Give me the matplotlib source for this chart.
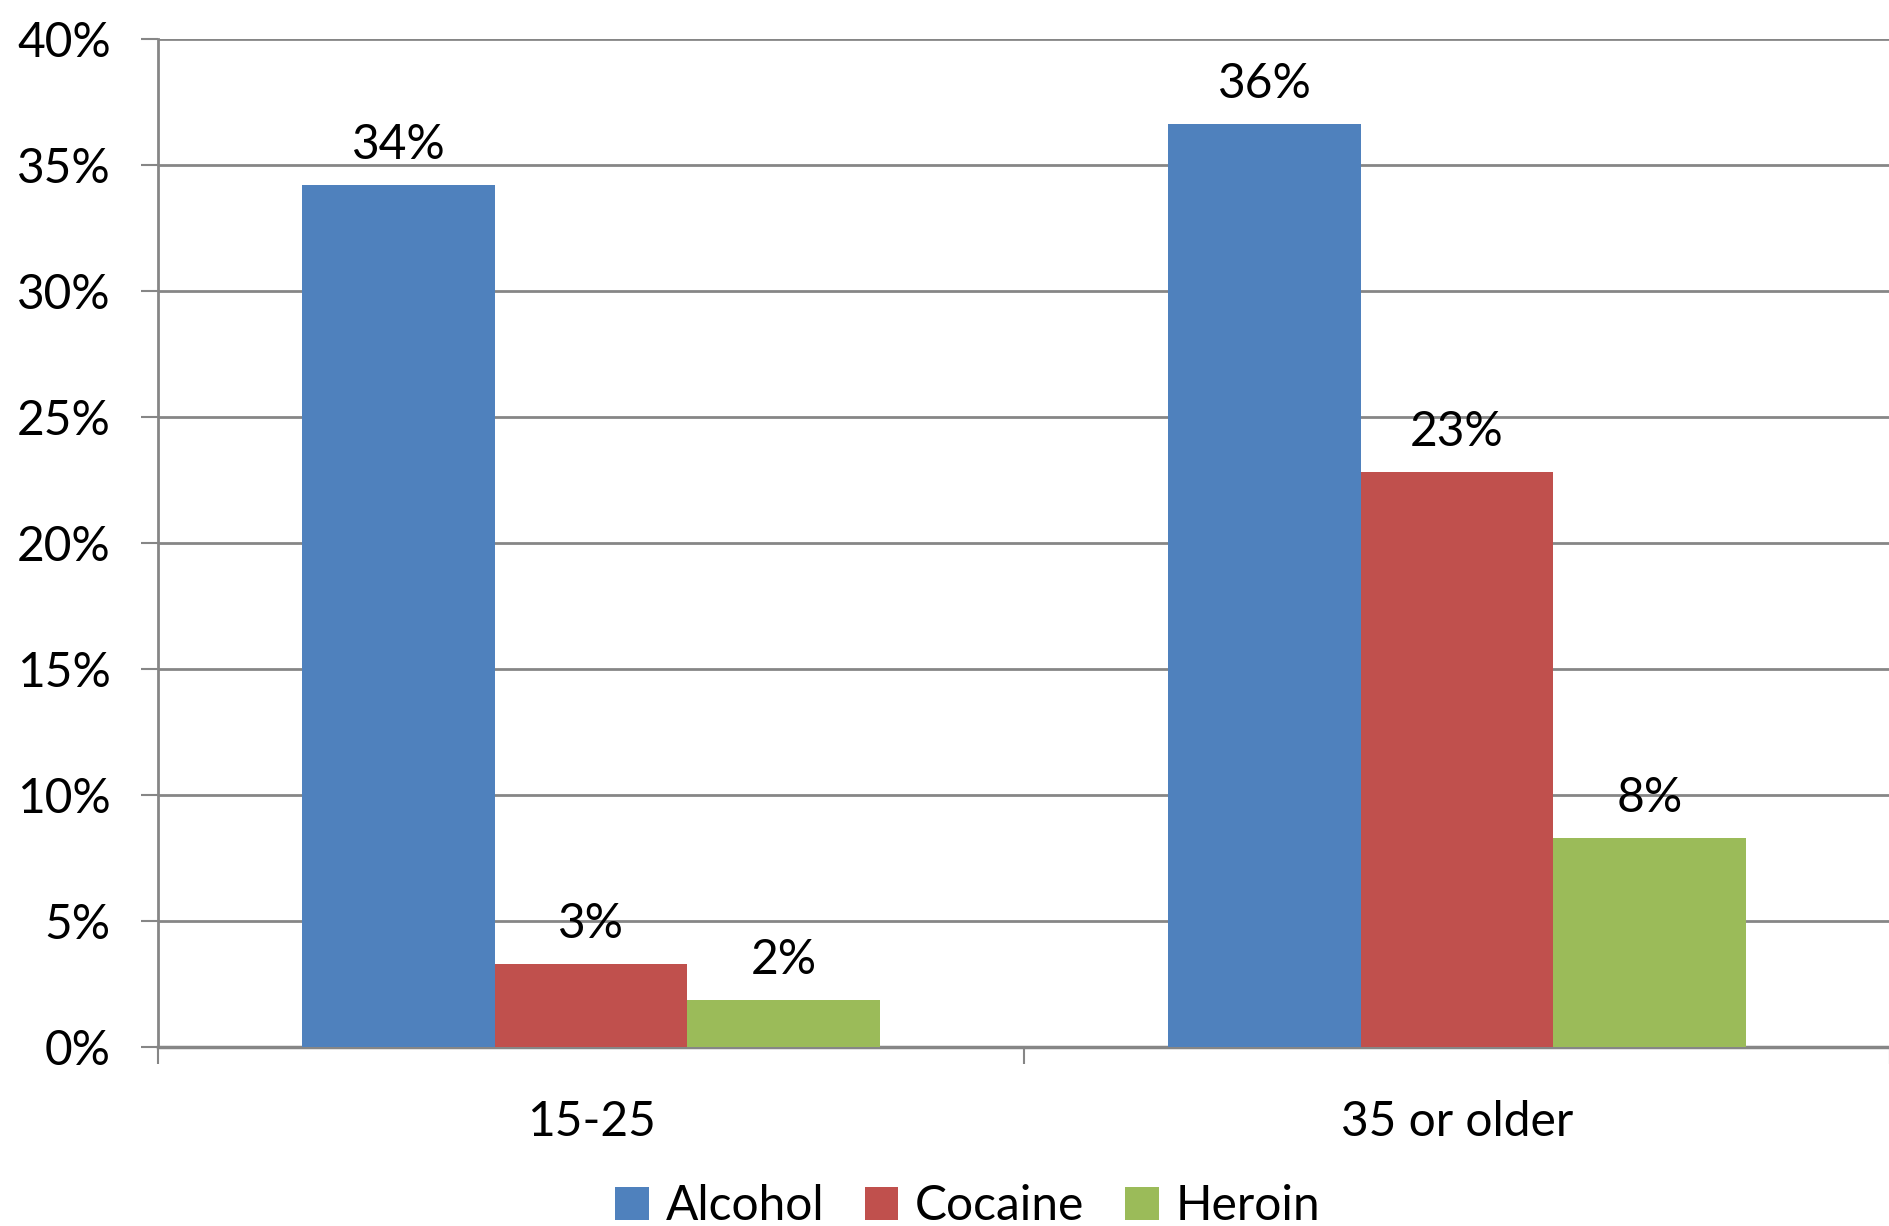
import matplotlib
matplotlib.use("Agg")
import matplotlib.pyplot as plt
import numpy as np

categories = ["15-25", "35 or older"]
series_names = ["Alcohol", "Cocaine", "Heroin"]
alcohol = [34.2, 36.6]
cocaine = [3.3, 22.8]
heroin = [1.9, 8.3]
labels_alcohol = ["34%", "36%"]
labels_cocaine = ["3%", "23%"]
labels_heroin = ["2%", "8%"]
yticks = [0, 5, 10, 15, 20, 25, 30, 35, 40]
ytick_labels = ["0%", "5%", "10%", "15%", "20%", "25%", "30%", "35%", "40%"]

colors = ["#4F81BD", "#C0504D", "#9BBB59"]

plt.rcParams['font.family'] = ['Lato', 'DejaVu Sans']
FS = 34.5

fig = plt.figure(figsize=(18.9, 12.26), dpi=100)
ax = fig.add_axes([0.0836, 0.1456, 0.9164, 0.8229])

x = np.arange(len(categories))
w = 1 / 4.5
data = [alcohol, cocaine, heroin]
labs = [labels_alcohol, labels_cocaine, labels_heroin]
handles = []
for i, (vals, lab) in enumerate(zip(data, labs)):
    bars = ax.bar(x + (i - 1) * w, vals, width=w, color=colors[i], zorder=3, label=series_names[i])
    handles.append(bars)
    for b, t in zip(bars, lab):
        ax.annotate(t, (b.get_x() + b.get_width() / 2, b.get_height()),
                    xytext=(0, 13), textcoords="offset points",
                    ha="center", va="bottom", fontsize=FS, color="black")

ax.set_xlim(-0.5, 1.5)
ax.set_ylim(0, 40)
ax.set_yticks(yticks)
ax.set_yticklabels(ytick_labels, fontsize=FS)
ax.yaxis.grid(True, color="#868686", linewidth=2, zorder=0)
ax.set_axisbelow(True)

ax.set_xticks([-0.5, 0.5, 1.5])
ax.set_xticklabels([])
ax.set_xticks(x, minor=True)
ax.set_xticklabels(categories, minor=True, fontsize=FS)
ax.tick_params(axis="x", which="minor", length=0, pad=38)
ax.tick_params(axis="x", which="major", length=12, width=1.5, color="#868686", direction="out")
ax.tick_params(axis="y", length=12, width=1.5, color="#868686", pad=22)

for s in ["top", "right"]:
    ax.spines[s].set_visible(False)
ax.spines["left"].set_color("#868686")
ax.spines["left"].set_linewidth(2)
ax.spines["bottom"].set_color("#868686")
ax.spines["bottom"].set_linewidth(2.5)

fig.legend(handles=handles, labels=series_names, loc="center", bbox_to_anchor=(0.512, 0.016),
           ncol=3, frameon=False, fontsize=FS, handlelength=0.7, handleheight=0.7,
           handletextpad=0.35, columnspacing=0.85)

fig.savefig("out.png", dpi=100, facecolor="white")
